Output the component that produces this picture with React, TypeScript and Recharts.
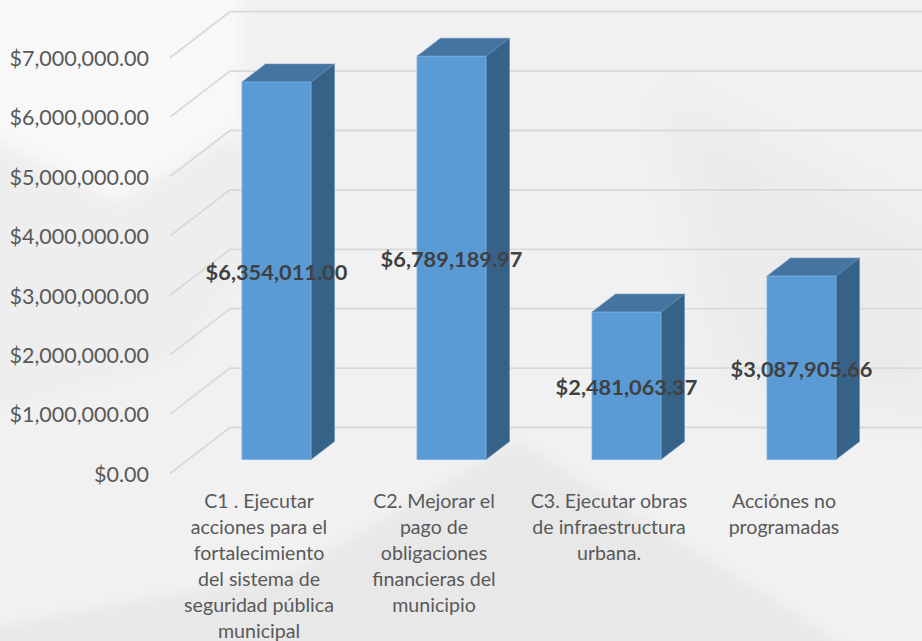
import { Bar, BarChart, CartesianGrid, LabelList, XAxis, YAxis } from "recharts";

const categories = ["C1", "C2", "C3", "Acciones"];
const categoryLines = [
  ["C1 . Ejecutar", "acciones para el", "fortalecimiento", "del sistema de", "seguridad pública", "municipal"],
  ["C2. Mejorar el", "pago de", "obligaciones", "financieras del", "municipio"],
  ["C3. Ejecutar obras", "de infraestructura", "urbana."],
  ["Acciónes no", "programadas"],
];
const amounts = [6354011.0, 6789189.97, 2481063.37, 3087905.66];
const yTicks = [0, 1000000, 2000000, 3000000, 4000000, 5000000, 6000000, 7000000];

const rows = categories.map((name, i) => ({ name, amount: amounts[i] }));

const FONT = "Lato, 'Open Sans', sans-serif";

const usd = (n: number) =>
  new Intl.NumberFormat("en-US", {
    style: "currency",
    currency: "USD",
    minimumFractionDigits: 2,
  }).format(n);

// 3D look: extra faces hang off the rectangle recharts gives us
function Bar3D({ x, y, width, height }: any) {
  const dx = 23.5;
  const dy = 18;
  const r = x + width;
  const b = y + height;
  return (
    <g>
      <polygon
        points={`${x},${y} ${x + dx},${y - dy} ${r + dx},${y - dy} ${r},${y}`}
        fill="#44749f"
        stroke="#5f8fbb"
        strokeWidth={0.6}
      />
      <polygon
        points={`${r},${y} ${r + dx},${y - dy} ${r + dx},${b - dy} ${r},${b}`}
        fill="#376288"
        stroke="#5f8fbb"
        strokeWidth={0.6}
      />
      <rect x={x} y={y} width={width} height={height} fill="#5b9bd5" stroke="#7cb0e0" strokeWidth={0.8} />
    </g>
  );
}

// each grid line runs over the floor and then along the back wall
function WallLine({ y1, index }: any) {
  return (
    <polyline
      key={index}
      points={`170,${y1 + 14} 230,${y1 - 32} 922,${y1 - 32}`}
      fill="none"
      stroke="#d9d9d9"
      strokeWidth={1.8}
    />
  );
}

function ValueTick({ y, payload }: any) {
  return (
    <text x={149} y={y + 14} dy={8.2} textAnchor="end" fontFamily={FONT} fontSize={21.5} fill="#595959">
      {usd(payload.value)}
    </text>
  );
}

function CategoryTick({ x, index }: any) {
  return (
    <text textAnchor="middle" fontFamily={FONT} fontSize={19.6} fill="#595959">
      {categoryLines[index].map((line, i) => (
        <tspan key={i} x={x - 17.5} y={507.5 + i * 26}>
          {line}
        </tspan>
      ))}
    </text>
  );
}

function Backdrop() {
  return (
    <svg width={922} height={641} style={{ position: "absolute", left: 0, top: 0 }}>
      <defs>
        <filter id="soft" x="-20%" y="-20%" width="140%" height="140%">
          <feGaussianBlur stdDeviation="7" />
        </filter>
        <filter id="wide" x="-30%" y="-30%" width="160%" height="160%">
          <feGaussianBlur stdDeviation="22" />
        </filter>
      </defs>
      <rect width={922} height={641} fill="#f1f1f1" />
      <g filter="url(#wide)">
        <polygon points="660,90 950,240 950,420 720,380" fill="#ebebeb" />
      </g>
      <g filter="url(#soft)">
        <polygon points="-20,-20 240,-20 240,130 118,200 0,139 -20,130" fill="#f8f8f8" />
        <polygon points="-20,140 118,205 230,135 300,190 180,360 -20,420" fill="#eeeeee" />
        <polygon points="517,441 794,613 860,660 -20,660 -20,630 294,572" fill="#e8e8e8" />
      </g>
    </svg>
  );
}

export default function App() {
  return (
    <div style={{ position: "absolute", left: 0, top: 0, width: 922, height: 641, overflow: "hidden" }}>
      <Backdrop />
      <div style={{ position: "absolute", left: 0, top: 0 }}>
        <BarChart
          width={922}
          height={641}
          data={rows}
          margin={{ top: 43.7, right: 33, bottom: 0, left: 0 }}
        >
          <CartesianGrid vertical={false} horizontal={(p: any) => <WallLine {...p} />} horizontalValues={yTicks} />
          <XAxis
            dataKey="name"
            height={181.5}
            axisLine={false}
            tickLine={false}
            interval={0}
            tick={<CategoryTick />}
          />
          <YAxis
            width={189}
            domain={[0, 7000000]}
            ticks={yTicks}
            axisLine={false}
            tickLine={false}
            interval={0}
            tick={<ValueTick />}
          />
          <Bar dataKey="amount" barSize={69} shape={<Bar3D />} isAnimationActive={false}>
            <LabelList
              dataKey="amount"
              position="center"
              formatter={(v: any) => usd(v)}
              fontFamily={FONT}
              fontWeight={700}
              fontSize={21.8}
              dy={1.2}
              fill="#404040"
            />
          </Bar>
        </BarChart>
      </div>
    </div>
  );
}
